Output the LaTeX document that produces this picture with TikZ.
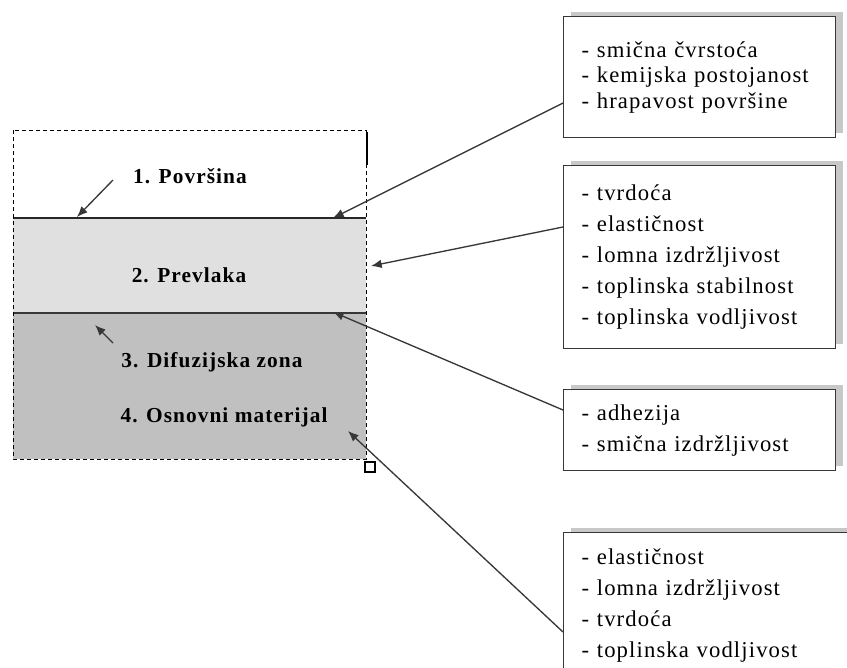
\documentclass[tikz,border=0pt]{standalone}
\usepackage{fontspec}
\setmainfont{Liberation Serif}
\usepackage{xcolor}
\usetikzlibrary{arrows.meta,calc,shadows}
\definecolor{coatgray}{RGB}{224,224,224}
\definecolor{basegray}{RGB}{192,192,192}
\definecolor{shadowgray}{RGB}{200,200,200}
\definecolor{linegray}{RGB}{55,55,55}
\tikzset{>={Latex[length=8pt,width=6.5pt]}}
\tikzset{
  layer/.style={anchor=base,font=\fontsize{16}{19}\selectfont\bfseries\addfontfeature{LetterSpace=5}},
  props/.style={rectangle,draw=linegray,line width=1.1pt,fill=white,anchor=north west,align=left,
    text width=177pt,inner xsep=13.5pt,inner ysep=0pt,
    font=\fontsize{17}{23.25}\selectfont\addfontfeature{LetterSpace=5},
    general shadow={shadow xshift=5.25pt,shadow yshift=3.75pt,fill=shadowgray}},
  pointer/.style={->,draw=linegray,line width=1pt}
}

\begin{document}
\begin{tikzpicture}[x=0.75pt,y=-0.75pt]
  \useasboundingbox (0,0) rectangle (847,668);
  \clip (0,0) rectangle (847,668);
  % layers
  \fill[coatgray] (13,218) rectangle (366,313);
  \fill[basegray] (13,313) rectangle (366,459);
  \draw[line width=2pt,black!85] (13,218) -- (366,218);
  \draw[line width=1.2pt,linegray] (13,313) -- (366,313);
  \draw[line width=0.75pt,dash pattern=on 3pt off 2.25pt] (13,130) rectangle (366,459);
  \draw[line width=2pt] (367,132) -- (367,165);
  \draw[line width=0.9pt] (365,462) rectangle (375,472);
  \node[layer] (Povrsina) at (190,183) {1. Površina};
  \node[layer] (Prevlaka) at (189,282) {2. Prevlaka};
  \node[layer] (Difuzija) at (212,367) {3. Difuzijska zona};
  \node[layer] (Osnovni) at (224,422) {4. Osnovni materijal};
  % property boxes
  \node[props,minimum height=90.75pt,font=\fontsize{17}{19}\selectfont\addfontfeature{LetterSpace=5}] (PovrsinaSvojstva) at (563,16) {- smična čvrstoća\\- kemijska postojanost\\- hrapavost površine};
  \node[props,minimum height=137.25pt] (PrevlakaSvojstva) at (563,165) {- tvrdoća\\- elastičnost\\- lomna izdržljivost\\- toplinska stabilnost\\- toplinska vodljivost};
  \node[props,minimum height=60.75pt] (SpojSvojstva) at (563,389) {- adhezija\\- smična izdržljivost};
  \node[props,minimum height=109.5pt,text width=200pt] (OsnovaSvojstva) at (563,532) {- elastičnost\\- lomna izdržljivost\\- tvrdoća\\- toplinska vodljivost};
  % pointers
  \coordinate (A) at (113,180);
  \coordinate (B) at (113,343);
  \coordinate (PovrsinaTip) at (77,217);
  \coordinate (DifuzijaTip) at (95,325);
  \coordinate (GornjaTip) at (333,218);
  \coordinate (PrevlakaTip) at (371,266);
  \coordinate (DonjaTip) at (333,312);
  \coordinate (OsnovaTip) at (348,431);
  \draw[pointer] (A) -- (PovrsinaTip);
  \draw[pointer] (B) -- (DifuzijaTip);
  \draw[pointer] ($(PovrsinaSvojstva.north west)+(0,87)$) -- (GornjaTip);
  \draw[pointer] ($(PrevlakaSvojstva.north west)+(0,62)$) -- (PrevlakaTip);
  \draw[pointer] ($(SpojSvojstva.north west)+(0,21)$) -- (DonjaTip);
  \draw[pointer] ($(OsnovaSvojstva.north west)+(0,100)$) -- (OsnovaTip);
\end{tikzpicture}
\end{document}
